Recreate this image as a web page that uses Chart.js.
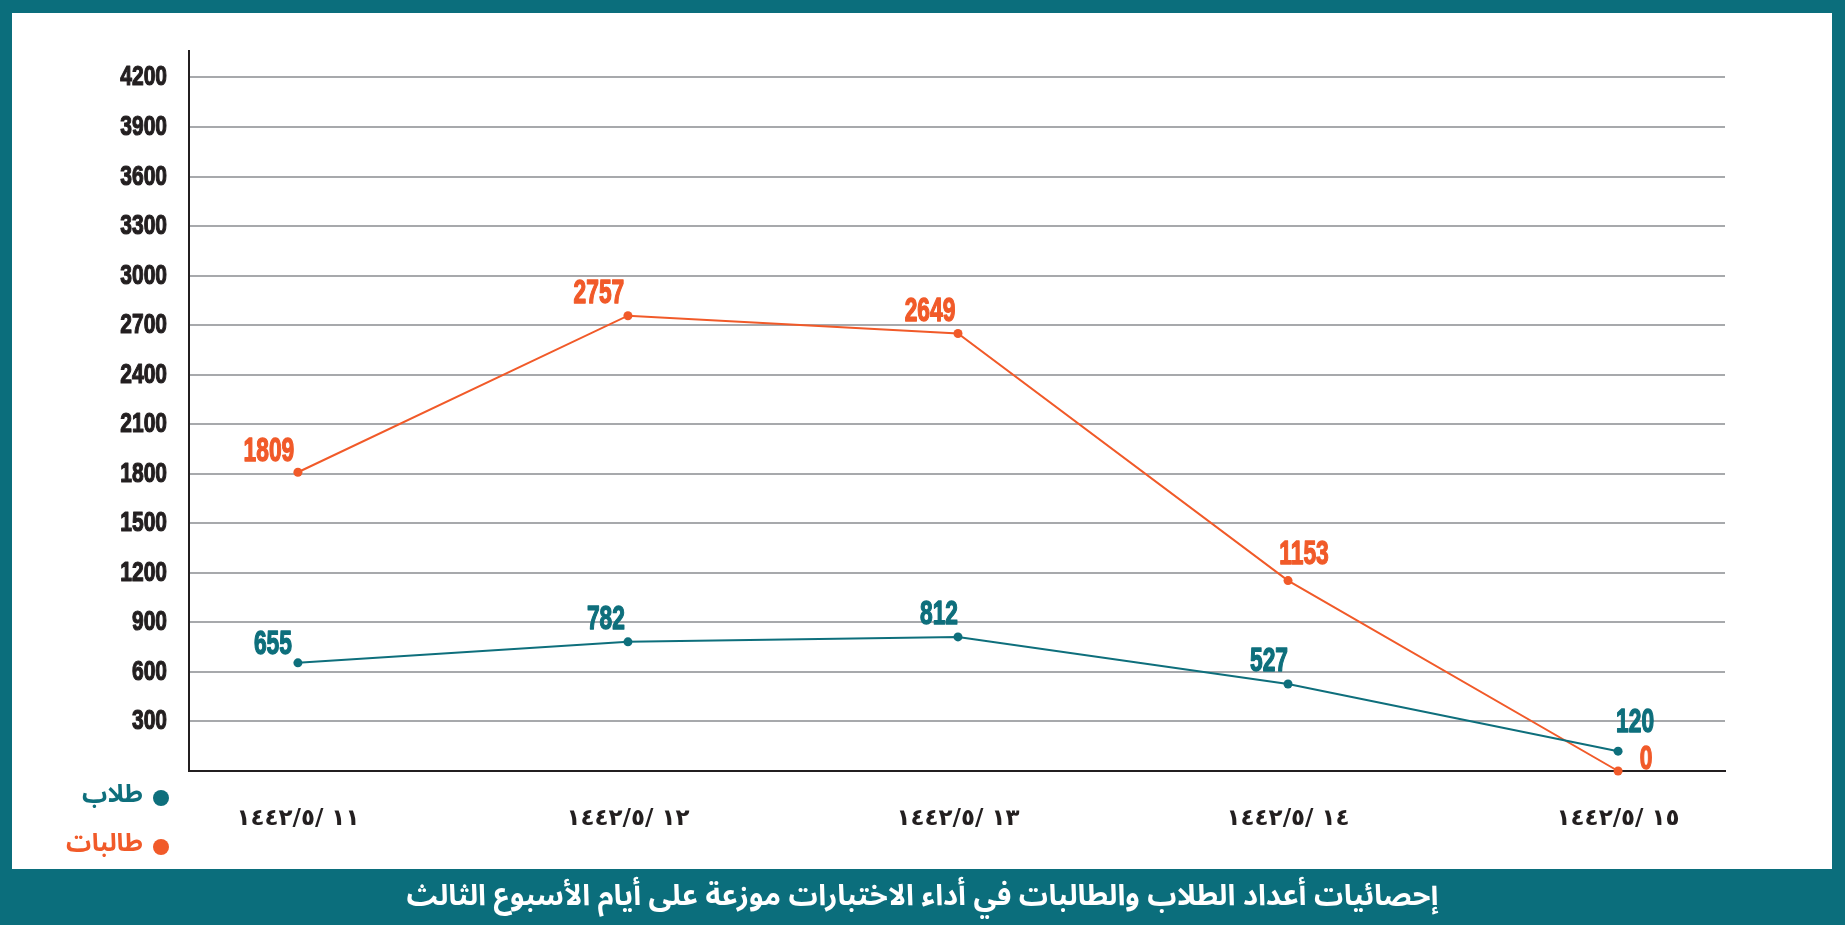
<!DOCTYPE html>
<html lang="ar">
<head>
<meta charset="utf-8">
<title>إحصائيات أعداد الطلاب والطالبات</title>
<script src="https://cdn.jsdelivr.net/npm/chart.js@4.4.1/dist/chart.umd.min.js"></script>
<style>
  html, body { margin: 0; padding: 0; }
  body {
    width: 1845px; height: 925px; overflow: hidden;
    position: relative; background: #0b6e7c;
  }
  .panel {
    position: absolute; left: 12px; top: 13px;
    width: 1820px; height: 856px; background: #ffffff;
  }
  .caption {
    position: absolute; left: 0; top: 869px; width: 1845px; height: 56px;
    line-height: 54px; text-align: center; color: #ffffff;
    font-weight: bold; font-size: 29px;
    font-family: 'Noto Sans Arabic', 'Noto Kufi Arabic', 'DejaVu Sans', sans-serif;
  }
</style>
</head>
<body>
<div class="panel"><canvas id="chart-tests"></canvas></div>
<div class="caption" dir="rtl">إحصائيات أعداد الطلاب والطالبات في أداء الاختبارات موزعة على أيام الأسبوع الثالث</div>
<script>
/* Chart data */
var DATES = ['١٤٤٢/٥/ ١١', '١٤٤٢/٥/ ١٢', '١٤٤٢/٥/ ١٣', '١٤٤٢/٥/ ١٤', '١٤٤٢/٥/ ١٥'];
var BOYS = [655, 782, 812, 527, 120];          /* طلاب */
var GIRLS = [1809, 2757, 2649, 1153, 0];       /* طالبات */
var Y_TICKS = [0, 300, 600, 900, 1200, 1500, 1800, 2100, 2400, 2700, 3000, 3300, 3600, 3900, 4200];

/* Colour palette */
var COLOURS = {
  boys: '#0e6f7c',
  girls: '#f15a29',
  grid: '#a7a9ac',
  axis: '#231f20',
  text: '#231f20'
};

/* Where each value label sits relative to its point (dx, dy) */
var BOYS_LABEL_POS = [[-25, -21], [-22, -25], [-19, -25], [-19, -25], [17, -31]];
var GIRLS_LABEL_POS = [[-29, -24], [-29, -25], [-28, -25], [16, -29], [28, -14]];

/* Condensed heavy numbers: Liberation Sans squeezed horizontally */
var NUM_FONT = '"Liberation Sans", Arial, sans-serif';

function toPoints(values) {
  return values.map(function(v, i) { return { x: i, y: v }; });
}

function drawCondensed(ctx, text, x, y, size, squeeze, colour, align, weight) {
  ctx.save();
  ctx.translate(x, y);
  ctx.scale(squeeze, 1);
  ctx.font = 'bold ' + size + 'px ' + NUM_FONT;
  ctx.fillStyle = colour;
  ctx.strokeStyle = colour;
  ctx.lineWidth = weight;
  ctx.lineJoin = 'round';
  ctx.textAlign = align;
  ctx.textBaseline = 'alphabetic';
  ctx.fillText(text, 0, 0);
  ctx.strokeText(text, 0, 0);
  ctx.restore();
}

/* Draws the numbers above each point */
var valueLabels = {
  id: 'valueLabels',
  afterDatasetsDraw: function(chart) {
    var size = 34;
    chart.data.datasets.forEach(function(ds, i) {
      var meta = chart.getDatasetMeta(i);
      meta.data.forEach(function(pt, j) {
        var pos = ds.labelPos[j];
        drawCondensed(chart.ctx, String(ds.data[j].y),
          pt.x + pos[0], pt.y + pos[1] + size * 0.36, size, 0.67, ds.borderColor, 'center', 1.4);
      });
    });
  }
};

/* Y tick labels, placed with the y scale, drawn condensed */
var yTickLabels = {
  id: 'yTickLabels',
  afterDraw: function(chart) {
    var scale = chart.scales.y;
    scale.ticks.forEach(function(t) {
      if (t.value === 0) return;
      drawCondensed(chart.ctx, String(t.value),
        scale.right - 22, scale.getPixelForValue(t.value) + 8, 28, 0.75, COLOURS.text, 'right', 1.2);
    });
  }
};

/* Legend stacked under the y axis, bottom left */
var sideLegend = {
  id: 'sideLegend',
  afterDraw: function(chart) {
    var ctx = chart.ctx;
    var area = chart.chartArea;
    chart.data.datasets.forEach(function(ds, i) {
      var x = area.left - 28;
      var y = area.bottom + 27 + i * 49;
      ctx.save();
      ctx.fillStyle = ds.borderColor;
      ctx.beginPath();
      ctx.arc(x, y, 8, 0, Math.PI * 2);
      ctx.fill();
      ctx.font = 'bold 25px "Noto Sans Arabic", "Noto Kufi Arabic", "DejaVu Sans", sans-serif';
      ctx.direction = 'rtl';
      ctx.textAlign = 'right';
      ctx.textBaseline = 'middle';
      ctx.fillText(ds.label, x - 18, y);
      ctx.restore();
    });
  }
};

new Chart(document.getElementById('chart-tests'), {
  type: 'line',
  data: {
    datasets: [
      {
        label: 'طلاب',
        data: toPoints(BOYS),
        borderColor: COLOURS.boys,
        backgroundColor: COLOURS.boys,
        borderWidth: 2,
        pointRadius: 4.5,
        pointBorderWidth: 0,
        clip: false,
        labelPos: BOYS_LABEL_POS
      },
      {
        label: 'طالبات',
        data: toPoints(GIRLS),
        borderColor: COLOURS.girls,
        backgroundColor: COLOURS.girls,
        borderWidth: 2,
        pointRadius: 4.5,
        pointBorderWidth: 0,
        clip: false,
        labelPos: GIRLS_LABEL_POS
      }
    ]
  },
  options: {
    responsive: true,
    maintainAspectRatio: false,
    animation: false,
    layout: { padding: { left: 0, right: 107, top: 38, bottom: 0 } },
    plugins: {
      legend: { display: false },
      tooltip: { enabled: false }
    },
    scales: {
      x: {
        type: 'linear',
        min: -0.33,
        max: 4.324,
        afterBuildTicks: function(axis) {
          axis.ticks = DATES.map(function(d, i) { return { value: i }; });
        },
        afterFit: function(axis) { axis.height = 98; },
        grid: { display: false, drawTicks: false },
        border: { display: true, color: COLOURS.axis, width: 2 },
        ticks: {
          autoSkip: false,
          maxRotation: 0,
          padding: 34,
          color: COLOURS.text,
          font: { family: "'DejaVu Sans', sans-serif", size: 23, weight: 'bold' },
          callback: function(v) { return '\u202D' + DATES[v] + '\u202C'; }
        }
      },
      y: {
        min: 0,
        max: 4360,
        afterBuildTicks: function(axis) {
          axis.ticks = Y_TICKS.map(function(v) { return { value: v }; });
        },
        afterFit: function(axis) { axis.width = 177; },
        grid: { color: COLOURS.grid, lineWidth: 2, drawTicks: false },
        border: { display: true, color: COLOURS.axis, width: 2 },
        ticks: { display: false }
      }
    }
  },
  plugins: [valueLabels, yTickLabels, sideLegend]
});
</script>
</body>
</html>
